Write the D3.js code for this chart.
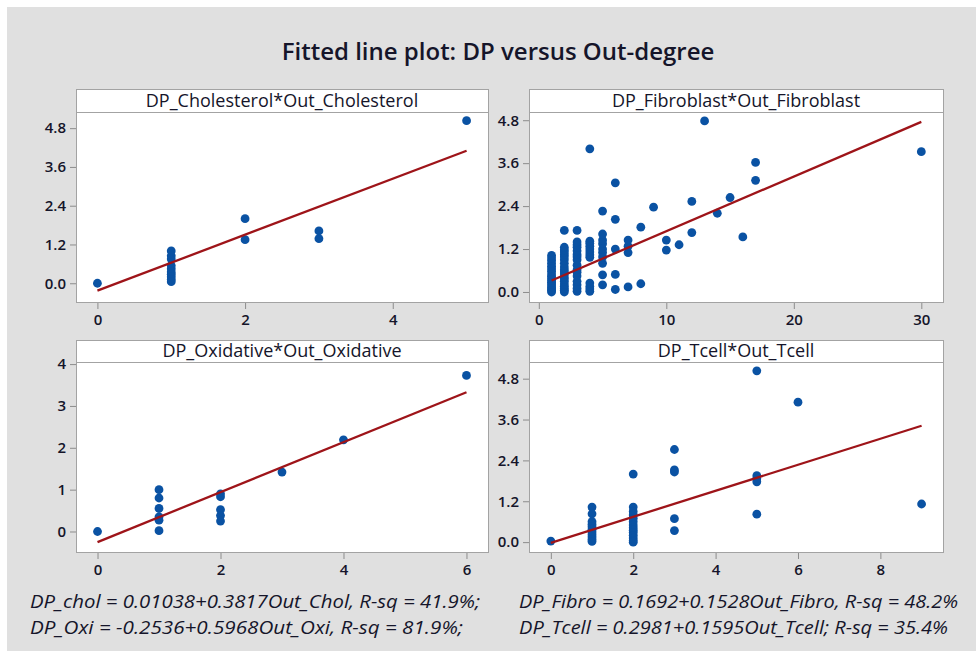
<!DOCTYPE html>
<html>
<head>
<meta charset="utf-8">
<script src="https://cdn.jsdelivr.net/npm/d3@7"></script>
<style>
  body { margin: 0; background: #ffffff; }
  svg text { font-family: "Open Sans", "Noto Sans", sans-serif; fill: #15152a; }
</style>
</head>
<body>
<svg id="chart" width="976" height="651"></svg>
<script>
// ---- data: [out-degree, DP] pairs for each network ----
const cholPoints = [
  [0, 0.0],
  [1, 1.0], [1, 0.85], [1, 0.75], [1, 0.55], [1, 0.45], [1, 0.35], [1, 0.28], [1, 0.2], [1, 0.12], [1, 0.05],
  [2, 2.0], [2, 1.35],
  [3, 1.62], [3, 1.38],
  [5, 5.03]
];

const fibroPoints = [
  [1, 0.0], [1, 0.04], [1, 0.08], [1, 0.12], [1, 0.17], [1, 0.22], [1, 0.27], [1, 0.32], [1, 0.38], [1, 0.44],
  [1, 0.5], [1, 0.58], [1, 0.65], [1, 0.72], [1, 0.8], [1, 0.88], [1, 0.95], [1, 1.02],
  [2, 0.0], [2, 0.05], [2, 0.1], [2, 0.16], [2, 0.22], [2, 0.3], [2, 0.36], [2, 0.42], [2, 0.5], [2, 0.56],
  [2, 0.62], [2, 0.7], [2, 0.8], [2, 0.9], [2, 0.98], [2, 1.05], [2, 1.12], [2, 1.18], [2, 1.25], [2, 1.72],
  [3, 0.02], [3, 0.1], [3, 0.2], [3, 0.3], [3, 0.45], [3, 0.55], [3, 0.62], [3, 0.75], [3, 0.9], [3, 0.98],
  [3, 1.05], [3, 1.15], [3, 1.25], [3, 1.32], [3, 1.4], [3, 1.72],
  [4, 0.02], [4, 0.08], [4, 0.15], [4, 0.25], [4, 0.97], [4, 1.04], [4, 1.12], [4, 1.2], [4, 1.28], [4, 1.36], [4, 1.42], [4, 4.0],
  [5, 0.2], [5, 0.48], [5, 0.8], [5, 0.98], [5, 1.1], [5, 1.2], [5, 1.35], [5, 1.45], [5, 1.62], [5, 2.26],
  [6, 0.07], [6, 0.49], [6, 1.2], [6, 2.03], [6, 3.05],
  [7, 0.14], [7, 1.1], [7, 1.28], [7, 1.45],
  [8, 0.23], [8, 1.81],
  [9, 2.37],
  [10, 1.17], [10, 1.45],
  [11, 1.32],
  [12, 1.66], [12, 2.53],
  [13, 4.78],
  [14, 2.2],
  [15, 2.64],
  [16, 1.54],
  [17, 3.12], [17, 3.62],
  [30, 3.92]
];

const oxiPoints = [
  [0, 0.0],
  [1, 1.0], [1, 0.8], [1, 0.55], [1, 0.35], [1, 0.27], [1, 0.02],
  [2, 0.9], [2, 0.83], [2, 0.52], [2, 0.38], [2, 0.25],
  [3, 1.42],
  [4, 2.19],
  [6, 3.73]
];

const tcellPoints = [
  [0, 0.03],
  [1, 1.03], [1, 0.83], [1, 0.6], [1, 0.52], [1, 0.45], [1, 0.38], [1, 0.3], [1, 0.22], [1, 0.15], [1, 0.08], [1, 0.02],
  [2, 2.0], [2, 1.03], [2, 0.9], [2, 0.8], [2, 0.7], [2, 0.6], [2, 0.5], [2, 0.42], [2, 0.35], [2, 0.28],
  [2, 0.2], [2, 0.12], [2, 0.05], [2, 0.0],
  [3, 2.72], [3, 2.12], [3, 2.06], [3, 0.69], [3, 0.34],
  [5, 5.03], [5, 1.95], [5, 1.86], [5, 1.77], [5, 0.82],
  [6, 4.11],
  [9, 1.12]
];

// fitted lines: intercept, slope and the x span each is drawn over
const fitIntercepts = [-0.23, 0.1692, -0.2536, -0.02];
const fitSlopes     = [0.866, 0.1528, 0.5968, 0.382];
const fitSpans      = [[0, 5], [1, 30], [0, 6], [0, 9]];

const panelTitles = [
  "DP_Cholesterol*Out_Cholesterol",
  "DP_Fibroblast*Out_Fibroblast",
  "DP_Oxidative*Out_Oxidative",
  "DP_Tcell*Out_Tcell"
];

const xTickValues = [[0, 2, 4], [0, 10, 20, 30], [0, 2, 4, 6], [0, 2, 4, 6, 8]];
const yTickValues = [[0, 1.2, 2.4, 3.6, 4.8], [0, 1.2, 2.4, 3.6, 4.8], [0, 1, 2, 3, 4], [0, 1.2, 2.4, 3.6, 4.8]];
const yTickFormats = [".1f", ".1f", "d", ".1f"];

const chartTitle = "Fitted line plot: DP versus Out-degree";
const equationsLeft = [
  "DP_chol = 0.01038+0.3817Out_Chol, R-sq = 41.9%;",
  "DP_Oxi = -0.2536+0.5968Out_Oxi, R-sq = 81.9%;"
];
const equationsRight = [
  "DP_Fibro = 0.1692+0.1528Out_Fibro, R-sq = 48.2%",
  "DP_Tcell = 0.2981+0.1595Out_Tcell; R-sq = 35.4%"
];

// ---- layout ----
const W = 976, H = 651;
const svg = d3.select("#chart");

svg.append("rect").attr("x", 7).attr("y", 7).attr("width", W - 7).attr("height", H - 7)
  .attr("fill", "#e0e0e0");

svg.append("text")
  .attr("x", 498).attr("y", 60)
  .attr("text-anchor", "middle")
  .style("font-size", "24px")
  .style("font-weight", 600)
  .text(chartTitle);

const cols = [{ x0: 76, x1: 488 }, { x0: 529, x1: 943 }];
const rows = [{ head: 89, top: 112, bottom: 302 }, { head: 340, top: 362, bottom: 552 }];

const panels = [
  { pts: cholPoints,  col: 0, row: 0, xDom: [-0.29, 5.29], yDom: [-0.58, 5.30] },
  { pts: fibroPoints, col: 1, row: 0, xDom: [-0.77, 31.7], yDom: [-0.28, 5.03] },
  { pts: oxiPoints,   col: 0, row: 1, xDom: [-0.35, 6.35], yDom: [-0.49, 4.05] },
  { pts: tcellPoints, col: 1, row: 1, xDom: [-0.53, 9.52], yDom: [-0.29, 5.29] }
];

const frameStroke = "#a3a3a3";
const dotColor = "#0a52a3";
const lineColor = "#9e1419";

panels.forEach((p, i) => {
  const c = cols[p.col], r = rows[p.row];
  const x = d3.scaleLinear().domain(p.xDom).range([c.x0, c.x1]);
  const y = d3.scaleLinear().domain(p.yDom).range([r.bottom, r.top]);
  const g = svg.append("g");

  // header strip with the panel title
  g.append("rect")
    .attr("x", c.x0 + 0.5).attr("y", r.head + 0.5)
    .attr("width", c.x1 - c.x0).attr("height", r.top - r.head)
    .attr("fill", "#ffffff").attr("stroke", frameStroke);
  g.append("text")
    .attr("x", (c.x0 + c.x1) / 2).attr("y", r.top - 5)
    .attr("text-anchor", "middle")
    .style("font-size", "18px")
    .text(panelTitles[i]);

  // plotting area
  g.append("rect")
    .attr("x", c.x0 + 0.5).attr("y", r.top + 0.5)
    .attr("width", c.x1 - c.x0).attr("height", r.bottom - r.top)
    .attr("fill", "#ffffff").attr("stroke", frameStroke);

  // axes
  const yAxis = d3.axisLeft(y).tickValues(yTickValues[i])
    .tickFormat(d3.format(yTickFormats[i])).tickSize(6).tickPadding(4);
  const xAxis = d3.axisBottom(x).tickValues(xTickValues[i])
    .tickFormat(d3.format("d")).tickSize(6).tickPadding(5);

  const ya = g.append("g").attr("transform", `translate(${c.x0},0)`).call(yAxis);
  const xa = g.append("g").attr("transform", `translate(0,${r.bottom + 1})`).call(xAxis);
  [ya, xa].forEach(a => {
    a.select(".domain").remove();
    a.selectAll(".tick line").attr("stroke", "#8c8c8c");
    a.selectAll(".tick text").style("font-size", "15px").style("font-weight", 600)
      .attr("fill", "#15152a")
      .style("font-family", "\"Open Sans\", sans-serif");
  });

  // observations
  g.append("g").selectAll("circle").data(p.pts).join("circle")
    .attr("cx", d => x(d[0])).attr("cy", d => y(d[1]))
    .attr("r", 4.4).attr("fill", dotColor);

  // fitted regression line
  const fit = fitSpans[i].map(v => [v, fitIntercepts[i] + fitSlopes[i] * v]);
  g.append("path").datum(fit)
    .attr("d", d3.line().x(d => x(d[0])).y(d => y(d[1])))
    .attr("fill", "none").attr("stroke", lineColor).attr("stroke-width", 2.3);
});

// regression equations under the panels, stretched to their column widths
const eqG = svg.append("g").style("font-style", "italic").style("font-size", "18px");
const eqWidths = [[450, 433], [439, 429]];
[[equationsLeft, 30], [equationsRight, 519]].forEach(([lines, x0], ci) => {
  lines.forEach((t, k) => {
    eqG.append("text").attr("x", x0).attr("y", 608 + k * 26)
      .attr("textLength", eqWidths[ci][k]).attr("lengthAdjust", "spacingAndGlyphs")
      .text(t);
  });
});
</script>
</body>
</html>
